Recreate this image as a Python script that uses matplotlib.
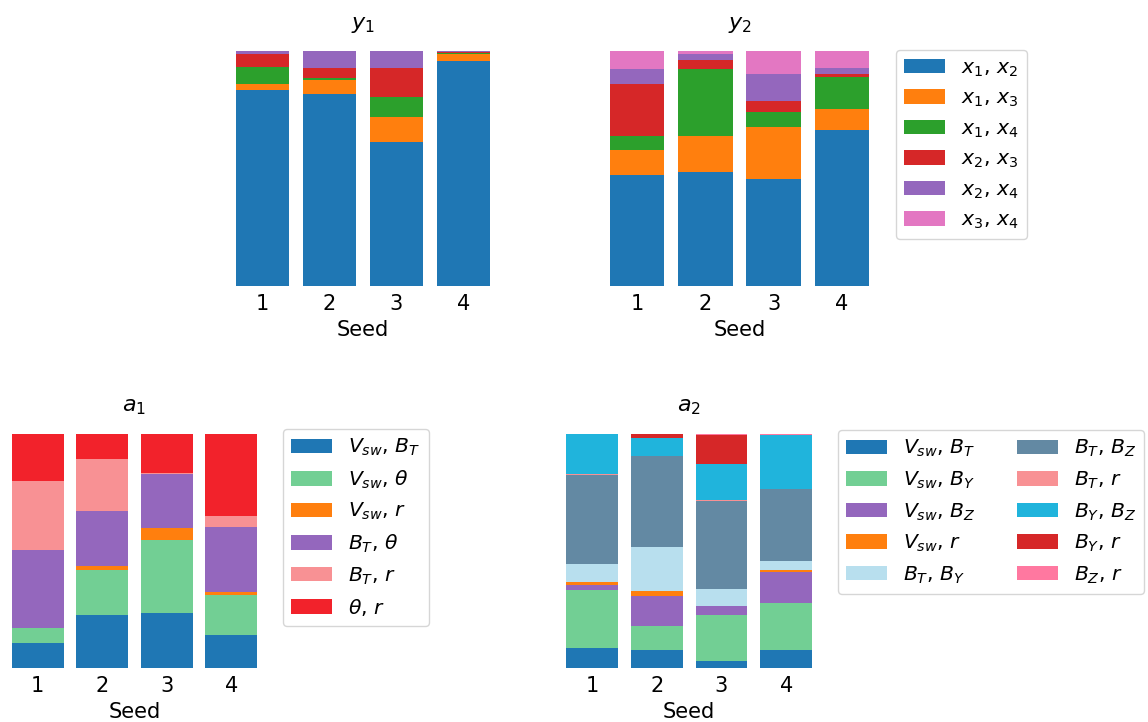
import numpy as np
import matplotlib
matplotlib.use("Agg")
import matplotlib.pyplot as plt

seeds = ["1", "2", "3", "4"]

# fractions per pair, one list per seed 1..4
y_labels = [r"$x_1$, $x_2$", r"$x_1$, $x_3$", r"$x_1$, $x_4$",
            r"$x_2$, $x_3$", r"$x_2$, $x_4$", r"$x_3$, $x_4$"]
y_colors = ["#1f77b4", "#ff7f0e", "#2ca02c", "#d62728", "#9467bd", "#e377c2"]

y1_x1x2 = [0.834, 0.817, 0.613, 0.957]
y1_x1x3 = [0.026, 0.060, 0.106, 0.030]
y1_x1x4 = [0.071, 0.008, 0.084, 0.004]
y1_x2x3 = [0.057, 0.043, 0.125, 0.005]
y1_x2x4 = [0.013, 0.072, 0.072, 0.004]
y1_x3x4 = [-0.004, -0.004, -0.004, -0.004]

y2_x1x2 = [0.474, 0.487, 0.457, 0.665]
y2_x1x3 = [0.106, 0.153, 0.221, 0.089]
y2_x1x4 = [0.059, 0.283, 0.064, 0.136]
y2_x2x3 = [0.221, 0.040, 0.047, 0.010]
y2_x2x4 = [0.064, 0.025, 0.115, 0.028]
y2_x3x4 = [0.076, 0.013, 0.098, 0.072]

a1_labels = [r"$V_{sw}$, $B_T$", r"$V_{sw}$, $\theta$", r"$V_{sw}$, $r$",
             r"$B_T$, $\theta$", r"$B_T$, $r$", r"$\theta$, $r$"]
a1_colors = ["#1f77b4", "#72cf94", "#ff7f0e", "#9467bd", "#f89194", "#f2222b"]

a1_vsw_bt = [0.107, 0.226, 0.235, 0.141]
a1_vsw_th = [0.064, 0.192, 0.312, 0.171]
a1_vsw_r = [0.000, 0.017, 0.051, 0.013]
a1_bt_th = [0.333, 0.235, 0.232, 0.278]
a1_bt_r = [0.295, 0.222, 0.004, 0.047]
a1_th_r = [0.201, 0.107, 0.165, 0.350]

a2_labels = [r"$V_{sw}$, $B_T$", r"$V_{sw}$, $B_Y$", r"$V_{sw}$, $B_Z$",
             r"$V_{sw}$, $r$", r"$B_T$, $B_Y$", r"$B_T$, $B_Z$",
             r"$B_T$, $r$", r"$B_Y$, $B_Z$", r"$B_Y$, $r$", r"$B_Z$, $r$"]
a2_colors = ["#1f77b4", "#72cf94", "#9467bd", "#ff7f0e", "#b8dfee",
             "#6389a3", "#f89194", "#20b4dc", "#d62728", "#ff78a0"]

a2_vsw_bt = [0.085, 0.077, 0.030, 0.077]
a2_vsw_by = [0.248, 0.103, 0.197, 0.201]
a2_vsw_bz = [0.021, 0.128, 0.038, 0.132]
a2_vsw_r = [0.013, 0.021, 0.000, 0.009]
a2_bt_by = [0.077, 0.188, 0.073, 0.038]
a2_bt_bz = [0.380, 0.389, 0.376, 0.308]
a2_bt_r = [0.004, 0.000, 0.004, 0.000]
a2_by_bz = [0.171, 0.077, 0.154, 0.231]
a2_by_r = [0.000, 0.021, 0.124, 0.000]
a2_bz_r = [0.004, -0.004, 0.004, 0.004]

FS = 15


def stacked(ax, series, labels, colors, title):
    x = np.arange(len(seeds))
    pos = np.zeros(len(seeds))
    neg = np.zeros(len(seeds))
    for vals, lab, col in zip(series, labels, colors):
        vals = np.array(vals)
        base = np.where(vals >= 0, pos, neg)
        ax.bar(x, vals, 0.8, bottom=base, color=col, label=lab)
        pos = pos + np.clip(vals, 0, None)
        neg = neg + np.clip(vals, None, 0)
    ax.set_xlim(-0.5, len(seeds) - 0.5)
    ax.set_ylim(0, 1)
    ax.set_xticks(x)
    ax.set_xticklabels(seeds, fontsize=FS)
    ax.set_yticks([])
    ax.tick_params(axis="x", length=0, pad=6)
    for s in ax.spines.values():
        s.set_visible(False)
    ax.set_xlabel("Seed", fontsize=FS, labelpad=4)
    ax.set_title(title, fontsize=16, pad=16)


fig = plt.figure(figsize=(11.48, 7.22), dpi=100)
ax_y1 = fig.add_axes([0.1995, 0.6039, 0.2334, 0.3255])
ax_y2 = fig.add_axes([0.5253, 0.6039, 0.2378, 0.3255])
ax_a1 = fig.add_axes([0.0048, 0.0748, 0.2247, 0.3241])
ax_a2 = fig.add_axes([0.4874, 0.0748, 0.2256, 0.3241])

stacked(ax_y1, [y1_x1x2, y1_x1x3, y1_x1x4, y1_x2x3, y1_x2x4, y1_x3x4],
        y_labels, y_colors, r"$y_1$")
stacked(ax_y2, [y2_x1x2, y2_x1x3, y2_x1x4, y2_x2x3, y2_x2x4, y2_x3x4],
        y_labels, y_colors, r"$y_2$")
stacked(ax_a1, [a1_vsw_bt, a1_vsw_th, a1_vsw_r, a1_bt_th, a1_bt_r, a1_th_r],
        a1_labels, a1_colors, r"$a_1$")
stacked(ax_a2, [a2_vsw_bt, a2_vsw_by, a2_vsw_bz, a2_vsw_r, a2_bt_by,
                a2_bt_bz, a2_bt_r, a2_by_bz, a2_by_r, a2_bz_r],
        a2_labels, a2_colors, r"$a_2$")

leg_kw = dict(loc="upper left", fontsize=14.7, borderaxespad=0,
              bbox_transform=fig.transFigure)
ax_y2.legend(bbox_to_anchor=(0.7805, 0.9307), **leg_kw)
ax_a1.legend(bbox_to_anchor=(0.2465, 0.4058), **leg_kw)
ax_a2.legend(bbox_to_anchor=(0.730, 0.4044), ncol=2, **leg_kw)

fig.savefig("out.png", dpi=100)
